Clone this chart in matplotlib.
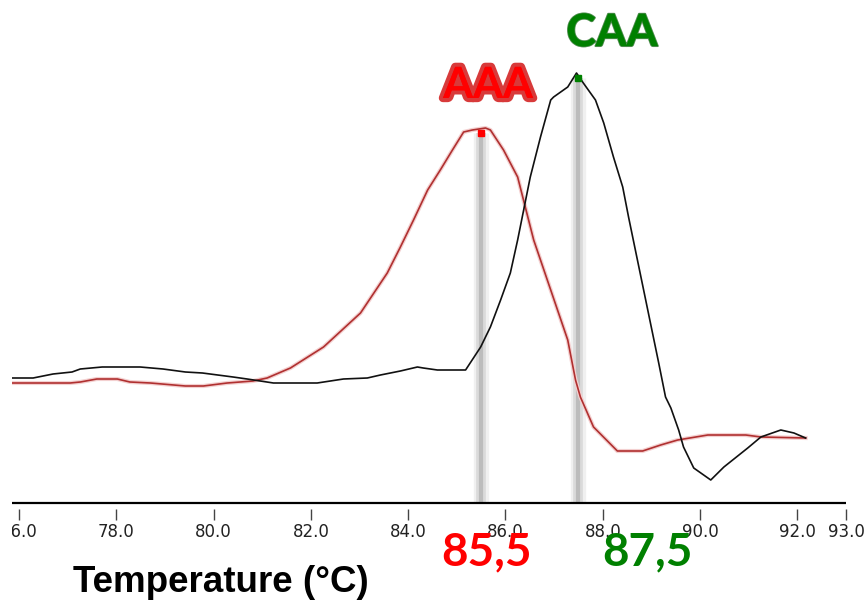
import matplotlib
matplotlib.use("Agg")
import matplotlib.pyplot as plt
import matplotlib.patheffects as pe
from matplotlib.patches import Rectangle

# melt curves (-dF/dT, arbitrary units)
aaa_temp = [75.86, 77.05, 77.26, 77.60, 78.02, 78.28, 78.70, 79.42, 79.79, 80.28,
            80.81, 81.10, 81.58, 82.26, 83.02, 83.57, 83.84, 84.11, 84.40, 84.66,
            84.91, 85.14, 85.32, 85.59, 85.69, 85.96, 86.25, 86.58, 86.93, 87.28,
            87.44, 87.54, 87.81, 88.30, 88.82, 89.19, 89.54, 90.16, 90.94, 91.25,
            92.17]
aaa_signal = [1.20, 1.20, 1.21, 1.24, 1.24, 1.21, 1.20, 1.17, 1.17, 1.20,
              1.22, 1.25, 1.35, 1.56, 1.90, 2.30, 2.56, 2.83, 3.13, 3.33,
              3.53, 3.71, 3.73, 3.75, 3.73, 3.53, 3.26, 2.63, 2.13, 1.63,
              1.23, 1.06, 0.76, 0.52, 0.52, 0.58, 0.63, 0.68, 0.68, 0.66,
              0.65]

caa_temp = [75.86, 76.29, 76.70, 77.09, 77.26, 77.71, 78.49, 78.96, 79.42, 79.77,
            80.40, 80.69, 81.23, 82.13, 82.67, 83.16, 83.43, 83.84, 84.19, 84.31,
            84.60, 85.18, 85.49, 85.69, 85.90, 86.10, 86.25, 86.51, 86.72, 86.93,
            86.99, 87.28, 87.46, 87.60, 87.85, 88.02, 88.22, 88.41, 88.53, 88.67,
            88.84, 88.98, 89.15, 89.29, 89.40, 89.56, 89.66, 89.87, 90.22, 90.49,
            90.98, 91.25, 91.66, 91.93, 92.17]
caa_signal = [1.25, 1.25, 1.29, 1.31, 1.34, 1.36, 1.36, 1.34, 1.31, 1.30,
              1.26, 1.24, 1.20, 1.20, 1.24, 1.25, 1.28, 1.32, 1.36, 1.35,
              1.33, 1.33, 1.56, 1.76, 2.03, 2.30, 2.63, 3.26, 3.66, 4.03,
              4.06, 4.16, 4.30, 4.20, 4.03, 3.80, 3.46, 3.16, 2.86, 2.53,
              2.13, 1.80, 1.40, 1.06, 0.95, 0.73, 0.56, 0.35, 0.23, 0.36,
              0.55, 0.66, 0.73, 0.70, 0.65]

tm_names = ["AAA", "CAA"]
tm_values = [85.5, 87.5]
tm_labels = ["85,5", "87,5"]
tm_peaks = [3.70, 4.25]
tm_colors = ["#ff0000", "#008000"]

tick_values = [76, 78, 80, 82, 84, 86, 88, 90, 92, 93]
tick_labels = [f"{t:.1f}" for t in tick_values]

W, H = 865, 604


def fx(px):
    return px / W


def fy(py):
    return 1 - py / H


fig = plt.figure(figsize=(W / 100, H / 100), dpi=100)
ax = fig.add_axes([fx(12), fy(509), fx(846) - fx(12), fy(0) - fy(509)])
ax.set_xlim(75.856, 93.0)
ax.set_ylim(-0.06, 5.03)

for s in ["left", "right", "top", "bottom"]:
    ax.spines[s].set_visible(False)
ax.axhline(0, color="black", lw=1.6, zorder=3)

ax.set_yticks([])
ax.set_xticks(tick_values)
ax.set_xticklabels(tick_labels, fontsize=12, color="#222222", family="DejaVu Sans")
ax.tick_params(axis="x", direction="out", length=8, width=1, color="#444444", pad=2)

# grey guide bars at the Tm values
for t, top, c in zip(tm_values, tm_peaks, tm_colors):
    ax.vlines(t, 0, top, color="#f0f0f0", lw=11, zorder=1)
    ax.vlines(t, 0, top, color="#dadada", lw=7, zorder=1)
    ax.vlines(t, 0, top, color="#bcbcbc", lw=3, zorder=1)
    ax.plot([t], [top], marker="s", ms=4.5, color=c, mec=c, zorder=5)

ax.plot(aaa_temp, aaa_signal, color="#b03030", lw=1.2, zorder=4,
        path_effects=[pe.Stroke(linewidth=3, foreground="#f3d0d0"), pe.Normal()])
ax.plot(caa_temp, caa_signal, color="#111111", lw=1.2, zorder=4)

# peak names
fig.text(fx(488), fy(85), tm_names[0], ha="center", va="center", fontsize=31,
         fontweight="bold", family="Lato", color="#ff0000",
         path_effects=[pe.withStroke(linewidth=6, foreground="#d83a3a"), pe.Normal()])
fig.text(fx(612), fy(33), tm_names[1], ha="center", va="center", fontsize=32,
         fontweight="bold", family="Lato", color=tm_colors[1],
         path_effects=[pe.withStroke(linewidth=1.5, foreground="#4a8a4a"), pe.Normal()])

# Tm values under the axis
fig.text(fx(486), fy(552), tm_labels[0], ha="center", va="center", fontsize=33,
         fontweight="bold", family="Lato", color=tm_colors[0])
fig.text(fx(647), fy(552), tm_labels[1], ha="center", va="center", fontsize=33,
         fontweight="bold", family="Lato", color=tm_colors[1])

fig.text(fx(221), fy(583), "Temperature (°C)", ha="center", va="center",
         fontsize=26.5, fontweight="bold", family="Liberation Sans", color="black")

# the screenshot was cropped on the left
fig.patches.append(Rectangle((0, 0), fx(12), 1, transform=fig.transFigure,
                             facecolor="white", edgecolor="none", zorder=10))

fig.savefig("out.png", dpi=100, facecolor="white")
